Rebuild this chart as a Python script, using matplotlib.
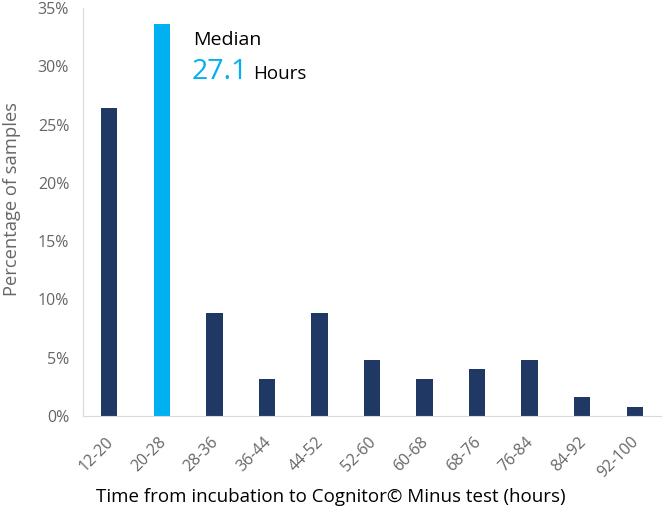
import matplotlib.pyplot as plt
import matplotlib.transforms as mtransforms
from matplotlib.ticker import PercentFormatter

# data: share of samples per time bin (n=125)
bins = ["12-20", "20-28", "28-36", "36-44", "44-52", "52-60",
        "60-68", "68-76", "76-84", "84-92", "92-100"]
percent = [26.4, 33.6, 8.8, 3.2, 8.8, 4.8, 3.2, 4.0, 4.8, 1.6, 0.8]
median_bin = "20-28"
median_hours = "27.1"

plt.rcParams['font.family'] = ['Open Sans', 'DejaVu Sans']

navy = "#1F3864"
sky = "#00B0F0"
grey = "#666666"

fig = plt.figure(figsize=(6.62, 5.16), dpi=100)
ax = fig.add_axes([0.1254, 0.1938, 0.873, 0.7907])

colors = [sky if b == median_bin else navy for b in bins]
ax.bar(range(len(bins)), percent, width=0.31, color=colors)

ax.set_xlim(-0.5, len(bins) - 0.5)
ax.set_ylim(0, 35)
ax.set_yticks(range(0, 36, 5))
ax.yaxis.set_major_formatter(PercentFormatter(decimals=0))
ax.set_xticks(range(len(bins)))
ax.set_xticklabels(bins, rotation=45, ha="right", rotation_mode="anchor")
ax.tick_params(axis="both", length=0, labelsize=11.5, colors=grey)
ax.tick_params(axis="y", pad=10)
ax.tick_params(axis="x", pad=13)

# nudge rotated labels a bit left so their ends sit under the bars
shift = mtransforms.ScaledTranslation(-4 / 100, 0, fig.dpi_scale_trans)
for lbl in ax.get_xticklabels():
    lbl.set_transform(lbl.get_transform() + shift)

for s in ["top", "right"]:
    ax.spines[s].set_visible(False)
for s in ["left", "bottom"]:
    ax.spines[s].set_color("#D9D9D9")

fig.text(12 / 662, 1 - 199 / 516, "Percentage of samples", rotation=90,
         ha="center", va="center", fontsize=13.2, color=grey)
fig.text(331 / 662, 1 - 497 / 516, "Time from incubation to Cognitor\u00a9 Minus test (hours)",
         ha="center", va="center", fontsize=13.5, color="black")

# median annotation
fig.text(193 / 662, 1 - 40 / 516, "Median", fontsize=14, color="black", va="center")
fig.text(192 / 662, 1 - 72 / 516, median_hours, fontsize=20.5, color=sky, va="center")
fig.text(253 / 662, 1 - 74 / 516, "Hours", fontsize=13.5, color="black", va="center")

fig.savefig("out.png", dpi=100)
